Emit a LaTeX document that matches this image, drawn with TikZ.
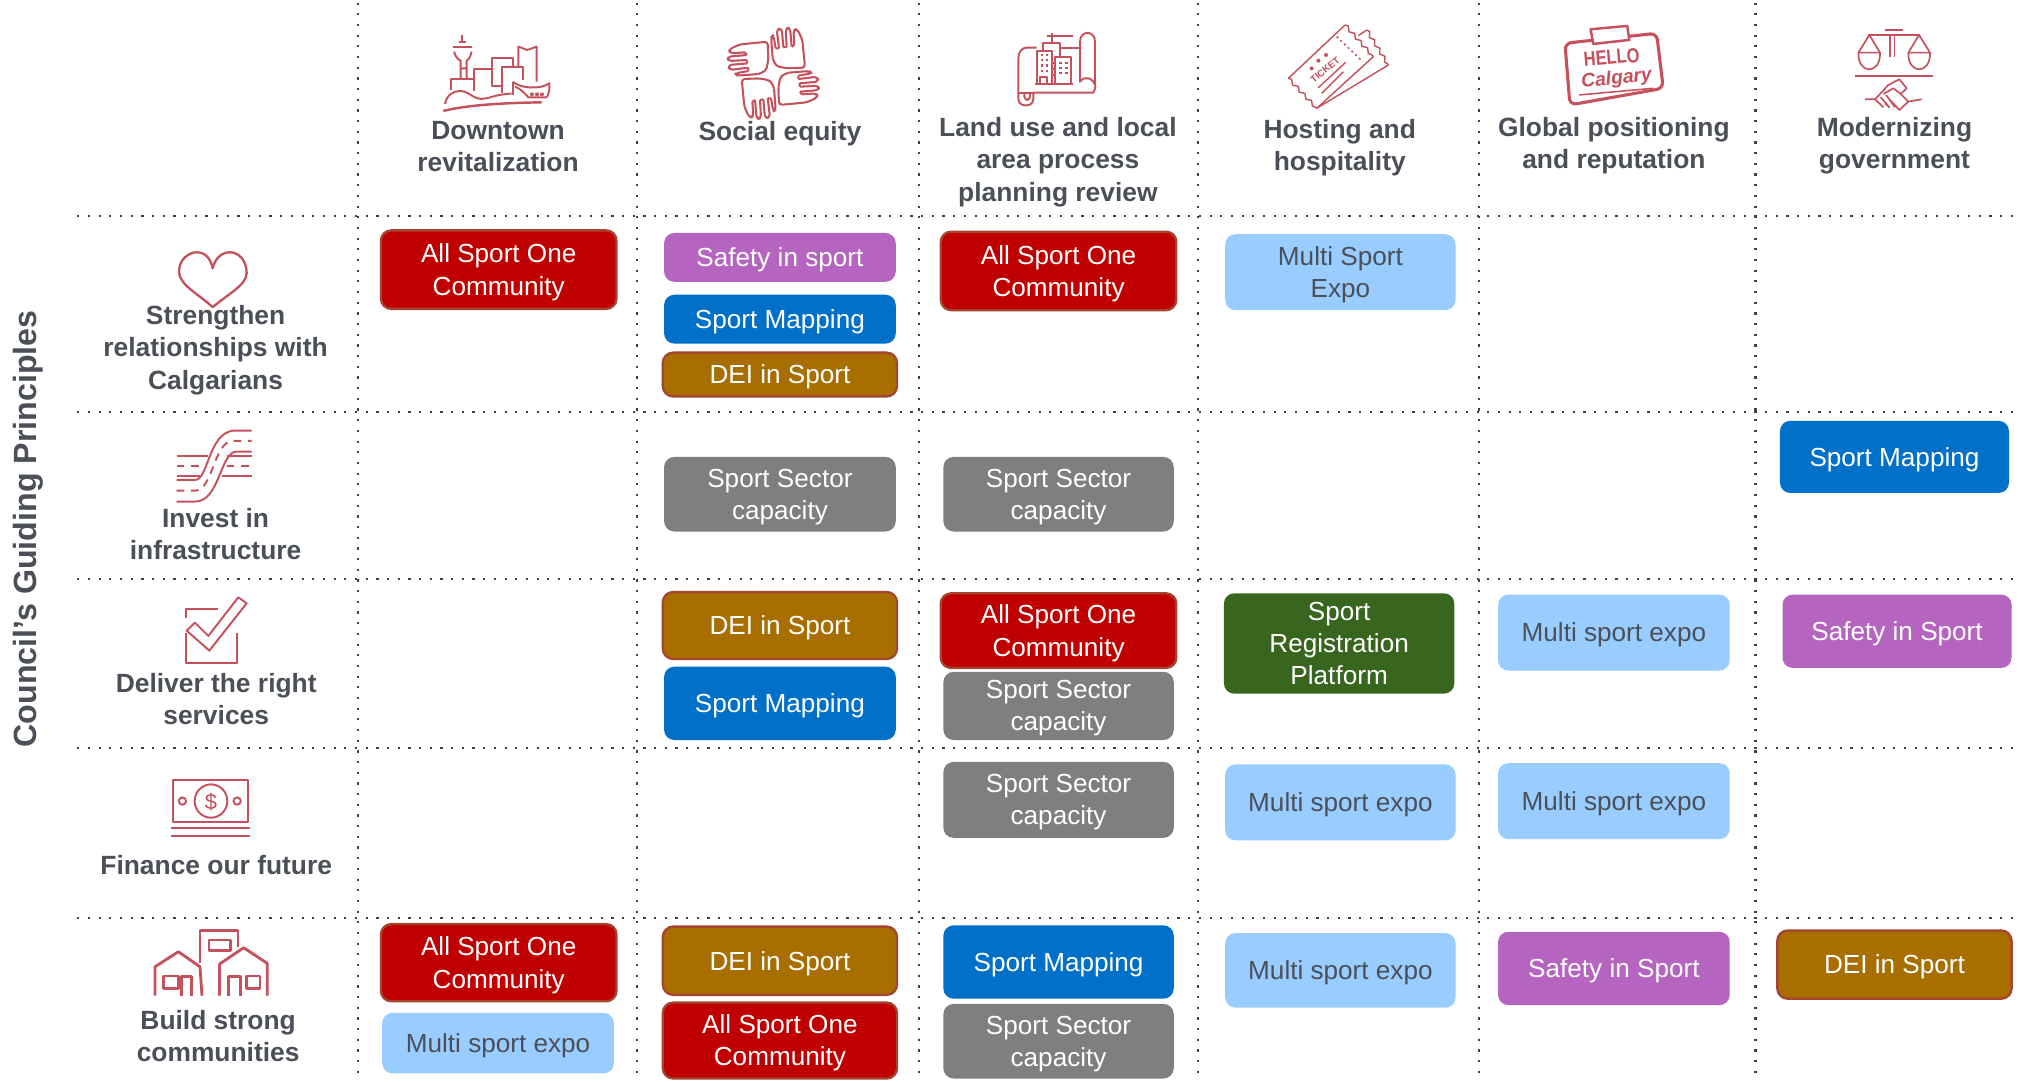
\documentclass[tikz,border=0pt]{standalone}
\usepackage{fontspec}
\setmainfont{Liberation Sans}
\usetikzlibrary{decorations.pathmorphing}
\definecolor{txt}{HTML}{4A4F58}
\definecolor{icon}{HTML}{C4515B}
\definecolor{grid}{HTML}{404040}
\definecolor{bred}{HTML}{C00000}
\definecolor{bbrown}{HTML}{A86F00}
\definecolor{bedge}{HTML}{A5452F}
\definecolor{bpurple}{HTML}{B565C0}
\definecolor{bblue}{HTML}{0070C8}
\definecolor{blight}{HTML}{99CCFF}
\definecolor{bgrey}{HTML}{7F7F7F}
\definecolor{bgreen}{HTML}{38661F}
\tikzset{
  gridline/.style={grid,line width=1.7pt,dash pattern=on 1.7pt off 6.6pt},
  tag/.style={rectangle,rounded corners=8pt,inner sep=0pt,align=center,text=white,
    font=\fontsize{20.3}{25}\selectfont,outer sep=0pt},
  asoc/.style={fill=bred,draw=bedge,line width=1.8pt},
  dei/.style={fill=bbrown,draw=bedge,line width=1.8pt},
  safe/.style={fill=bpurple},
  mapg/.style={fill=bblue},
  expo/.style={fill=blight,text=txt},
  capac/.style={fill=bgrey},
  plat/.style={fill=bgreen},
  head/.style={align=center,text=txt,inner sep=0pt,font=\fontsize{20.5}{25}\selectfont\bfseries},
  ic/.style={draw=icon,line width=1.5pt,line join=round},
  icb/.style={draw=icon,line width=2.2pt,line join=round},
  zc/.style={shift={(0,170.9)},xscale=.259,yscale=.259},
  zd/.style={shift={(0,528.4)},xscale=.3171,yscale=.259},
  zsky/.style={shift={(334.1,19.4)},scale=.259},
  zplan/.style={shift={(780.9,19.4)},scale=.259},
  ztick/.style={shift={(990.7,11.65)},scale=.259},
  zhello/.style={shift={(1204.3,15.5)},scale=.259},
  zscale/.style={shift={(1429.7,15.5)},scale=.259},
  wavy/.style={decorate,decoration={snake,amplitude=1.3pt,segment length=7.5pt}},
}
\newcommand{\tshift}{2}
\newcommand{\bx}[7]{%
  \pgfmathsetmacro{\bw}{#5-#3}\pgfmathsetmacro{\bh}{#6-#4}%
  \pgfmathsetmacro{\bcx}{(#3+#5)/2}\pgfmathsetmacro{\bcy}{(#4+#6)/2}%
  \pgfmathsetmacro{\bty}{\bcy+\tshift}%
  \node[tag,#2,minimum width=\bw pt,minimum height=\bh pt] (#1) at (\bcx,\bcy) {};
  \node[tag,#2,fill=none,draw=none] (#1t) at (\bcx,\bty) {#7};}
\begin{document}
\begin{tikzpicture}[x=1pt,y=-1pt]
\useasboundingbox (0,0) rectangle (1568,840);
\fill[white] (0,0) rectangle (1568,840);
% grid
\foreach \gx in {278,495,714,931,1149,1364}{\draw[gridline] (\gx,2) -- (\gx,840);}
\foreach \gy in {168,320,450,581,713}{\draw[gridline] (60,\gy) -- (1564,\gy);}
% title
\node[text=txt,rotate=90,inner sep=0pt,font=\fontsize{25}{28}\selectfont\bfseries] (title) at (22,411) {Council’s Guiding Principles};
% column heads
\node[head] (c1) at (387,114) {Downtown\\revitalization};
\node[head] (c2) at (606,104) {Social equity};
\node[head] (c3) at (822,126) {Land use and local\\area process\\planning review};
\node[head] (c4) at (1041,114.5) {Hosting and\\hospitality};
\node[head] (c5) at (1254,113.5) {Global positioning\\and reputation};
\node[head] (c6) at (1472,113.5) {Modernizing\\government};
% row heads
\node[head] (r1) at (167.5,272) {Strengthen\\relationships with\\Calgarians};
\node[head] (r2) at (167.5,415) {Invest in\\infrastructure};
\node[head] (r3) at (168,543) {Deliver the right\\services};
\node[head] (r4) at (168,672) {Finance our future};
\node[head] (r5) at (169.5,805) {Build strong\\communities};
% row 1
\bx{a1}{asoc}{296}{179}{479}{240}{All Sport One\\Community}
\bx{a2}{safe}{516}{181}{696}{219}{Safety in sport}
\bx{a3}{mapg}{516}{229}{696}{267}{Sport Mapping}
\bx{a4}{dei}{515}{274}{697}{308}{DEI in Sport}
\bx{a5}{asoc}{731}{180}{914}{241}{All Sport One\\Community}
\bx{a6}{expo}{952}{182}{1131}{241}{Multi Sport\\Expo}
% row 2
\bx{b1}{capac}{516}{355}{696}{413}{Sport Sector\\capacity}
\bx{b2}{capac}{733}{355}{912}{413}{Sport Sector\\capacity}
\bx{b3}{mapg}{1383}{327}{1561}{383}{Sport Mapping}
% row 3
\bx{d1}{dei}{515}{460}{697}{512}{DEI in Sport}
\bx{d2}{mapg}{516}{518}{696}{575}{Sport Mapping}
\bx{d4}{capac}{733}{522}{912}{575}{Sport Sector\\capacity}
\bx{d3}{asoc}{731}{461}{914}{519}{All Sport One\\Community}
\renewcommand{\tshift}{0}
\bx{d5}{plat}{951}{461}{1130}{539}{Sport\\Registration\\Platform}
\renewcommand{\tshift}{2}
\bx{d6}{expo}{1164}{462}{1344}{521}{Multi sport expo}
\bx{d7}{safe}{1385}{462}{1563}{519}{Safety in Sport}
% row 4
\bx{e1}{capac}{733}{592}{912}{651}{Sport Sector\\capacity}
\bx{e2}{expo}{952}{594}{1131}{653}{Multi sport expo}
\bx{e3}{expo}{1164}{593}{1344}{652}{Multi sport expo}
% row 5
\bx{f1}{asoc}{296}{718}{479}{778}{All Sport One\\Community}
\bx{f2}{expo}{297}{787}{477}{834}{Multi sport expo}
\bx{f3}{dei}{515}{720}{697}{773}{DEI in Sport}
\bx{f4}{asoc}{515}{779}{697}{838}{All Sport One\\Community}
\bx{f5}{mapg}{733}{719}{912}{776}{Sport Mapping}
\bx{f6}{capac}{733}{780}{912}{838}{Sport Sector\\capacity}
\bx{f7}{expo}{952}{725}{1131}{783}{Multi sport expo}
\bx{f8}{safe}{1164}{724}{1344}{781}{Safety in Sport}
\bx{f9}{dei}{1381}{723}{1563}{776}{DEI in Sport}
% icon: skyline
\begin{scope}[zsky,ic]
\draw (97,30)--(97,48) (88,50)--(107,50) (70,65)--(127,65);
\draw (72,80) .. controls (76,95) and (85,105) .. (92,107)--(92,163) (125,80) .. controls (122,95) and (115,105) .. (110,107)--(110,163) (92,130)--(110,130);
\draw (62,195)--(62,163)--(133,163);
\draw (133,197)--(133,133)--(185,133)--(185,182)--(215,182);
\draw (185,133)--(185,100)--(248,100)--(248,125);
\draw (215,205)--(215,125)--(278,125)--(278,165);
\draw (265,125)--(265,65)--(292,75)--(320,65)--(320,170);
\draw (45,237) .. controls (50,210) and (70,198) .. (90,198) .. controls (115,198) and (130,222) .. (155,222) .. controls (175,222) and (195,208) .. (245,206);
\draw (248,170)--(248,210);
\draw (248,170) .. controls (270,190) and (330,195) .. (358,175) .. controls (360,195) and (356,208) .. (350,217);
\draw (255,185) .. controls (270,190) and (285,205) .. (295,217)--(350,217);
\fill[icon] (306,208) circle[radius=6] (321,208) circle[radius=6] (336,208) circle[radius=6];
\draw[line width=1.9pt] (40,258) .. controls (110,240) and (220,234) .. (335,232);
\end{scope}
% icon: hands
\foreach \ang in {0,90,180,270}{
\begin{scope}[shift={(600.9,57)},rotate=\ang,scale=.259,ic,line width=1.6pt]
\draw[rounded corners=2.5pt] (-2,-45)--(8,-22)--(40,-15)--(95,-17)--(87,-100)--(72,-133)--(60,-130)--(63,-85);
\draw[rounded corners=2.5pt] (55,-80)--(50,-137)--(37,-135)--(40,-80);
\draw[rounded corners=2.5pt] (30,-78)--(25,-135)--(10,-132)--(17,-75);
\draw[rounded corners=2.5pt] (7,-75)--(0,-115)--(-7,-108)--(-2,-45);
\draw (63,-85)--(55,-80) (40,-80)--(30,-78) (17,-75)--(7,-75);
\end{scope}}
% icon: plan
\begin{scope}[zplan,ic]
\draw (95,68)--(65,68) .. controls (50,68) and (40,82) .. (40,100)--(40,222) .. controls (40,248) and (85,248) .. (85,222)--(85,203)--(265,203) .. controls (272,190) and (272,180) .. (270,172)--(270,50) .. controls (270,15) and (225,15) .. (225,50)--(225,170) .. controls (240,150) and (265,160) .. (270,180);
\draw (165,68)--(225,68) (42,205)--(85,205);
\draw (58,205) .. controls (55,232) and (78,232) .. (75,205);
\draw (125,32)--(205,32) (140,25)--(140,55);
\draw (115,76)--(115,55)--(165,55)--(165,95);
\draw (95,177)--(95,78)--(140,78)--(140,177);
\draw (105,177)--(105,155)--(125,155)--(125,177);
\draw (90,177)--(205,177);
\draw (150,177)--(150,97)--(197,97)--(197,177);
\draw (140,115)--(150,115) (140,132)--(150,132) (140,150)--(150,150);
\foreach \wx in {111,126}{\foreach \wy in {90,106,122,138}{\fill[icon] (\wx-3.5,\wy-3.5) rectangle (\wx+3.5,\wy+3.5);}}
\foreach \wx in {166,184}{\foreach \wy in {115,130,145}{\fill[icon] (\wx-3.5,\wy-3.5) rectangle (\wx+3.5,\wy+3.5);}}
\end{scope}
% icon: ticket
\begin{scope}[ztick,draw=icon,line width=1.1pt,line join=round]
\draw (40,190)--(210,30) (125,280)--(295,125) (125,280)--(340,150) (250,62)--(275,45);
\draw[wavy] (210,30)--(295,125);
\draw[wavy] (40,190)--(125,280);
\draw[wavy] (275,45)--(340,150);
\draw[dash pattern=on 1.5pt off 2.5pt,line width=1.3pt] (185,65)--(258,135);
\draw (130,218)--(212,142) (140,235)--(205,170);
\node[text=icon,rotate=40,inner sep=0pt,font=\fontsize{7.5}{8}\selectfont\bfseries] (tk) at (150,165) {TICKET};
\fill[icon] (110,160) circle[radius=6] (130,137) circle[radius=6] (153,120) circle[radius=6];
\end{scope}
% icon: hello
\begin{scope}[zhello,icb,line width=2.4pt]
\draw[rounded corners=5pt] (45,70)--(320,40)--(340,205)--(60,255)--cycle;
\draw[fill=white,line width=1.9pt] (122,28)--(232,18)--(238,60)--(130,72)--cycle;
\node[text=icon,rotate=5,inner sep=0pt,xscale=.8,font=\fontsize{16}{16}\selectfont\bfseries] (hl) at (185,112) {HELLO};
\node[text=icon,rotate=6,inner sep=0pt,font=\fontsize{15}{15}\selectfont\bfseries\itshape] (cg) at (200,178) {Calgary};
\draw[line width=1.2pt] (88,225)--(310,205);
\end{scope}
% icon: scales
\begin{scope}[zscale,ic,line width=1.3pt]
\draw[line width=1.6pt] (135,30)--(188,30);
\draw (150,48)--(150,110) (163,48)--(163,110);
\draw (85,45)--(240,45);
\draw (88,45)--(55,98) (88,45)--(120,98) (237,45)--(205,98) (237,45)--(270,98);
\draw (55,98)--(120,98) .. controls (122,165) and (53,165) .. (55,98);
\draw (205,98)--(270,98) .. controls (272,165) and (203,165) .. (205,98);
\draw[line width=1.6pt] (45,167)--(278,167);
\draw (75,238)--(105,238)--(145,195)--(178,178)--(200,205)--(182,222)--(160,205)--(130,222);
\draw (105,238)--(130,262) (122,232)--(148,262)--(135,250) (138,225)--(165,262);
\draw (150,240)--(178,270)--(205,245)--(245,238) (182,222)--(205,245);
\end{scope}
% icon: heart
\begin{scope}[zc,ic,line width=1.8pt]
\draw (638,262) .. controls (600,225) and (537,195) .. (537,155) .. controls (537,115) and (570,97) .. (590,97) .. controls (615,97) and (632,115) .. (638,145) .. controls (645,115) and (665,97) .. (690,97) .. controls (715,97) and (740,120) .. (740,160) .. controls (740,195) and (680,225) .. (638,262);
\end{scope}
% icon: roads
\begin{scope}[zc,ic]
\draw (530,707)--(625,707) (530,767)--(600,767) (680,707)--(755,707) (665,767)--(755,767);
\draw (530,780)--(585,780) .. controls (625,780) and (625,640) .. (700,632)--(755,632);
\draw (530,845)--(585,845) .. controls (660,845) and (660,695) .. (710,695)--(755,695);
\draw[dash pattern=on 6pt off 5pt] (530,812)--(585,812) .. controls (640,812) and (640,663) .. (700,663)--(755,663);
\draw[dash pattern=on 6pt off 5pt] (530,738)--(600,738) (680,738)--(755,738);
\end{scope}
% icon: check
\begin{scope}[zc,ic]
\draw (655,1168)--(558,1168)--(558,1195) (558,1240)--(558,1328)--(712,1328)--(712,1240);
\draw (560,1232)--(585,1208)--(625,1248)--(715,1132)--(740,1150)--(628,1292)--cycle;
\end{scope}
% icon: money
\begin{scope}[zd,ic]
\draw (425,300) rectangle (608,425);
\draw (517,363) ellipse[x radius=40,y radius=50];
\draw (447,363) ellipse[x radius=9,y radius=11] (581,363) ellipse[x radius=9,y radius=11];
\node[text=icon,inner sep=0pt,font=\fontsize{17}{17}\selectfont] (dl) at (517,365) {\$};
\draw (420,445)--(612,445) (420,467)--(612,467);
\end{scope}
% icon: houses
\begin{scope}[zd,icb]
\draw (380,947)--(380,860)--(437,815)--(490,860)--(495,947);
\draw (400,888) rectangle (437,925);
\draw (445,947)--(445,890)--(470,890)--(470,947);
\draw (490,850)--(490,752)--(583,752)--(583,800);
\draw (512,780) rectangle (565,812);
\draw (538,947)--(538,852)--(597,803)--(655,850)--(655,947);
\draw (560,947)--(560,890)--(590,890)--(590,947);
\draw (605,888) rectangle (637,925);
\end{scope}
\end{tikzpicture}
\end{document}
